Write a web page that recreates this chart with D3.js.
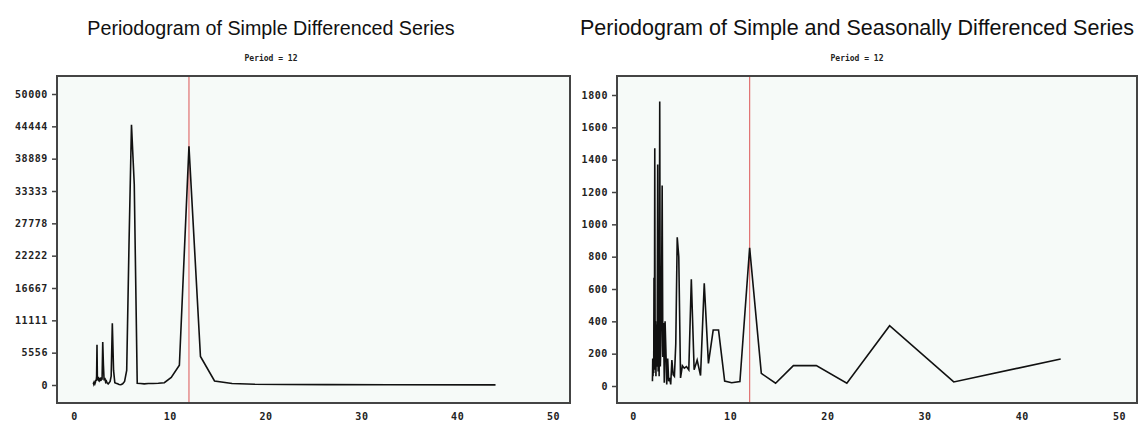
<!DOCTYPE html>
<html>
<head>
<meta charset="utf-8">
<script src="https://cdn.jsdelivr.net/npm/d3@7"></script>
<style>
  body { margin: 0; background: #ffffff; }
  .tick text { font-family: "DejaVu Sans Mono", monospace; font-weight: bold; font-size: 10px; letter-spacing: 0.6px; fill: #222; }
  .tick line { stroke: #444; stroke-width: 1.5; }
</style>
</head>
<body>
<div id="chart"></div>
<script>
// periods (N / k) shown on the x axis, shared by both panels
const periods = [2.00, 2.03, 2.06, 2.10, 2.13, 2.16, 2.20, 2.24, 2.28, 2.32, 2.36, 2.40, 2.44, 2.49,
    2.54, 2.59, 2.64, 2.69, 2.75, 2.81, 2.87, 2.93, 3.00, 3.07, 3.14, 3.22, 3.30, 3.38, 3.47, 3.57,
    3.67, 3.77, 3.88, 4.00, 4.13, 4.26, 4.40, 4.55, 4.71, 4.89, 5.08, 5.28, 5.50, 5.74, 6.00, 6.29,
    6.60, 6.95, 7.33, 7.76, 8.25, 8.80, 9.43, 10.15, 11.00, 12.00, 13.20, 14.67, 16.50, 18.86,
    22.00, 26.40, 33.00, 44.00];

// periodogram of the simple differenced series
const simpleDiff = [200, 300, 150, 400, 250, 600, 300, 500, 900, 700, 1500, 6900, 1200, 800,
    1400, 600, 1200, 800, 1000, 700, 1300, 900, 7400, 3500, 800, 1200, 500, 700, 300, 200,
    400, 600, 1500, 10600, 2500, 400, 300, 200, 100, 50, 200, 600, 2500, 24000, 44700, 34500,
    300, 250, 200, 250, 250, 300, 400, 1300, 3400, 41000, 4900, 700, 250, 120,
    80, 60, 40, 30];

// periodogram of the simple and seasonally differenced series
const seasonalDiff = [30, 170, 60, 160, 80, 670, 100, 1470, 150, 400, 60, 380, 120, 200,
    1370, 90, 400, 60, 1760, 120, 250, 480, 1240, 180, 390, 20, 400, 230, 10, 170,
    30, 50, 10, 160, 70, 60, 260, 920, 800, 50, 125, 110, 120, 100, 660, 100,
    160, 65, 635, 140, 346, 346, 30, 20, 27, 855, 78, 17, 126, 126,
    17, 373, 25, 167];

const xTicks = [0, 10, 20, 30, 40, 50];
const yTicksLeft = [0, 5556, 11111, 16667, 22222, 27778, 33333, 38889, 44444, 50000];
const yTicksRight = [0, 200, 400, 600, 800, 1000, 1200, 1400, 1600, 1800];
const seasonPeriod = 12;

const titles = ["Periodogram of Simple Differenced Series",
    "Periodogram of Simple and Seasonally Differenced Series"];
const subtitle = "Period = 12";

const svg = d3.select("#chart").append("svg")
    .attr("width", 1138)
    .attr("height", 430);

const panels = [
    { title: titles[0], values: simpleDiff, yTicks: yTicksLeft, yMax: 50000, titleSize: 19.7,
      frame: { x0: 57, x1: 570, y0: 76, y1: 403 }, xr: [74, 553], yr: [385, 94], titleX: 271 },
    { title: titles[1], values: seasonalDiff, yTicks: yTicksRight, yMax: 1800, titleSize: 21.5,
      frame: { x0: 617, x1: 1137, y0: 76, y1: 403 }, xr: [633, 1119], yr: [386, 95], titleX: 857 }
];

panels.forEach(p => {
    const x = d3.scaleLinear().domain([0, 50]).range(p.xr);
    const y = d3.scaleLinear().domain([0, p.yMax]).range(p.yr);
    const f = p.frame;

    // title + subtitle
    svg.append("text")
        .attr("x", p.titleX)
        .attr("y", 35)
        .attr("text-anchor", "middle")
        .style("font-family", "'Liberation Sans', Arial, sans-serif")
        .style("font-size", p.titleSize + "px")
        .style("fill", "#111")
        .text(p.title);

    svg.append("text")
        .attr("x", p.titleX)
        .attr("y", 61)
        .attr("text-anchor", "middle")
        .style("font-family", "'DejaVu Sans Mono', monospace")
        .style("font-weight", "bold")
        .style("font-size", "8px")
        .style("fill", "#222")
        .text(subtitle);

    // plot background
    svg.append("rect")
        .attr("x", f.x0)
        .attr("y", f.y0)
        .attr("width", f.x1 - f.x0)
        .attr("height", f.y1 - f.y0)
        .attr("fill", "#f6faf8");

    // axes
    svg.append("g")
        .attr("transform", `translate(${f.x0},0)`)
        .call(d3.axisLeft(y).tickValues(p.yTicks).tickFormat(d3.format("d")).tickSize(5).tickPadding(4))
        .call(g => g.select(".domain").remove());

    svg.append("g")
        .attr("transform", `translate(0,${f.y1})`)
        .call(d3.axisBottom(x).tickValues(xTicks).tickSize(0).tickPadding(10))
        .call(g => g.select(".domain").remove());

    // reference line at the seasonal period
    svg.append("line")
        .attr("x1", x(seasonPeriod))
        .attr("x2", x(seasonPeriod))
        .attr("y1", f.y0)
        .attr("y2", f.y1)
        .attr("stroke", "#e07070")
        .attr("stroke-width", 1.2);

    // periodogram line
    const line = d3.line()
        .x((d, i) => x(periods[i]))
        .y(d => y(d));

    svg.append("path")
        .datum(p.values)
        .attr("d", line)
        .attr("fill", "none")
        .attr("stroke", "#111")
        .attr("stroke-width", 1.6)
        .attr("stroke-linejoin", "miter");

    // frame
    svg.append("rect")
        .attr("x", f.x0)
        .attr("y", f.y0)
        .attr("width", f.x1 - f.x0)
        .attr("height", f.y1 - f.y0)
        .attr("fill", "none")
        .attr("stroke", "#444")
        .attr("stroke-width", 2);
});
</script>
</body>
</html>
